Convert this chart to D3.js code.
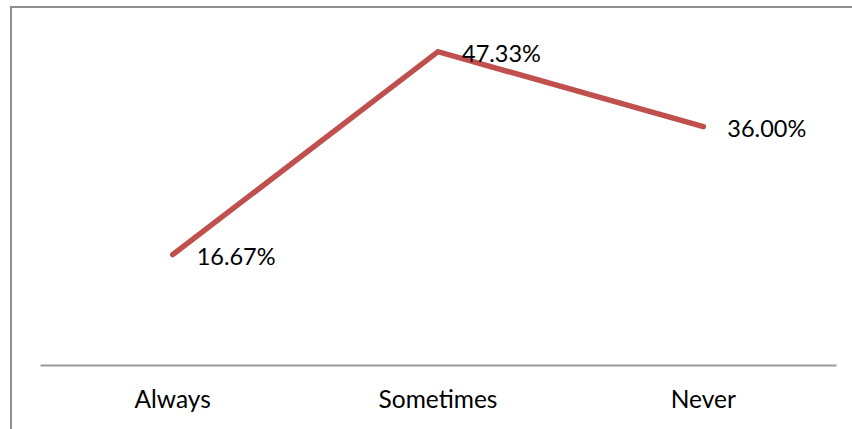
<!DOCTYPE html>
<html>
<head>
<meta charset="utf-8">
<script src="https://cdn.jsdelivr.net/npm/d3@7"></script>
<style>
  html, body { margin: 0; padding: 0; background: #fff; }
  svg { display: block; }
  text { font-family: Lato, "Open Sans", sans-serif; fill: #000; }
</style>
</head>
<body>
<svg id="chart" width="852" height="429"></svg>
<script>
const categories = ["Always", "Sometimes", "Never"];
const values = [16.67, 47.33, 36.00];
const valueLabels = ["16.67%", "47.33%", "36.00%"];
const yDomain = [0, 50];

const W = 852, H = 429;
const svg = d3.select("#chart");

// chart frame (runs off the right and bottom edges)
svg.append("rect")
  .attr("x", 11).attr("y", 7)
  .attr("width", 1000).attr("height", 1000)
  .attr("fill", "none")
  .attr("stroke", "#8e8e8e")
  .attr("stroke-width", 2);

const plot = { left: 40, right: 836, top: 34, bottom: 365 };

const x = d3.scaleBand()
  .domain(categories)
  .range([plot.left, plot.right]);

const y = d3.scaleLinear()
  .domain(yDomain)
  .range([plot.bottom, plot.top]);

// category axis
const xAxis = d3.axisBottom(x).tickSize(0).tickPadding(0);
const gx = svg.append("g")
  .attr("transform", `translate(0,${plot.bottom})`)
  .call(xAxis);
gx.select(".domain")
  .attr("stroke", "#9a9a9a")
  .attr("stroke-width", 1.8);
gx.selectAll(".tick text")
  .attr("y", 43)
  .attr("dy", null)
  .style("font-family", "Lato, 'Open Sans', sans-serif")
  .style("font-size", "24.5px")
  .attr("fill", "#000");

const px = (d, i) => x(categories[i]) + x.bandwidth() / 2;

// series line
const line = d3.line()
  .x((d, i) => px(d, i))
  .y(d => y(d));

svg.append("path")
  .datum(values)
  .attr("d", line)
  .attr("fill", "none")
  .attr("stroke", "#C0504D")
  .attr("stroke-width", 5.5)
  .attr("stroke-linecap", "round")
  .attr("stroke-linejoin", "miter");

// data labels to the right of each point
svg.append("g")
  .selectAll("text")
  .data(values)
  .join("text")
  .attr("x", (d, i) => px(d, i) + 24)
  .attr("y", d => y(d) + 10)
  .attr("text-anchor", "start")
  .style("font-size", "23.5px")
  .text((d, i) => valueLabels[i]);
</script>
</body>
</html>
